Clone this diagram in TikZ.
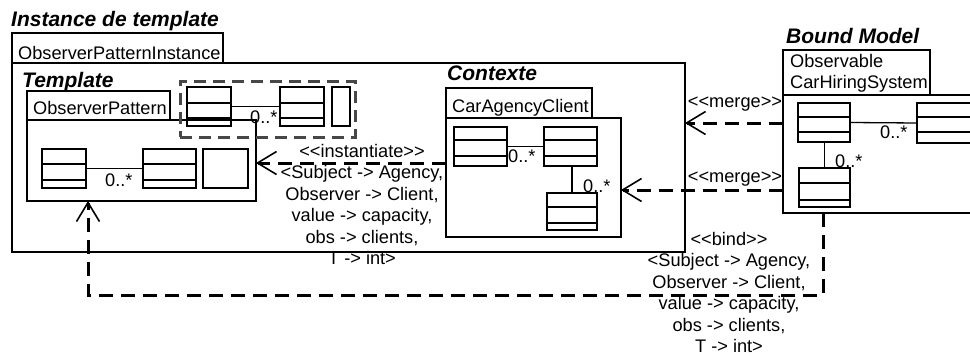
\documentclass[tikz,border=0pt]{standalone}
\usepackage{fontspec}
\setmainfont{Liberation Sans}[Ligatures=TeXOff]
\usetikzlibrary{arrows.meta,calc}
\newcommand\umlcls[7]{%
  \node[box,minimum width=#4pt,minimum height=#5pt] (#1) at (#2,#3) {};
  \draw[cmp] ([yshift=-#6pt]#1.north west) -- ([yshift=-#6pt]#1.north east);
  \draw[cmp] ([yshift=-#7pt]#1.north west) -- ([yshift=-#7pt]#1.north east);}
\begin{document}
\begin{tikzpicture}[x=1pt,y=-1pt,
  box/.style={draw,line width=1.4pt,inner sep=0pt,outer sep=0pt,anchor=north west},
  cmp/.style={line width=1.2pt},
  asc/.style={line width=1.3pt},
  txt/.style={inner sep=0pt,anchor=base west,font=\fontsize{18.2}{21.5}\selectfont},
  ctxt/.style={txt,anchor=base},
  ttl/.style={inner sep=0pt,anchor=base west,font=\fontsize{21}{24}\selectfont\bfseries\itshape},
  map/.style={inner sep=0pt,anchor=north,align=center,font=\fontsize{18.2}{21.5}\selectfont},
  dep/.style={line width=3pt,dash pattern=on 14pt off 8pt,-{Straight Barb[length=19pt,width=23pt,line width=1.6pt]}},
  grp/.style={box,draw=black!72,line width=3pt,dash pattern=on 12pt off 7pt},
]
\useasboundingbox (0,0) rectangle (970,356);
\clip (0,0) rectangle (970,356);

% ---- Instance de template
\node[ttl] (ttlinst) at (11,27) {Instance de template};
\node[box,minimum width=211pt,minimum height=30pt] (optab) at (12,33) {};
\node[txt] (optxt) at (18,59) {ObserverPatternInstance};
\node[box,minimum width=673pt,minimum height=189pt] (outer) at (12,63) {};

% ---- Template
\node[ttl] (ttltpl) at (22,87) {Template};
\node[box,minimum width=143pt,minimum height=29pt] (tpltab) at (27,91) {};
\node[txt] (tpltxt) at (33,114) {ObserverPattern};
\node[box,minimum width=229pt,minimum height=81pt] (tplbox) at (27,120) {};

\node[grp,minimum width=175pt,minimum height=56pt] (grp) at (180,81) {};
\umlcls{d1}{187}{87}{44}{39}{16}{31}
\umlcls{d2}{280}{87}{44}{39}{16}{31}
\node[box,minimum width=18pt,minimum height=39pt] (d3) at (332,87) {};
\draw[asc] (d1.east) -- (d2.west);
\node[txt] (md) at (250,123) {0..*};

\umlcls{t1}{42}{149}{44}{39}{15}{31}
\umlcls{t2}{143}{149}{53}{39}{15}{31}
\node[box,minimum width=45pt,minimum height=39pt] (t3) at (203,149) {};
\draw[asc] (t1.east) -- (t2.west);
\node[txt] (mt) at (105,186) {0..*};

% ---- Contexte
\node[ttl] (ttlctx) at (447,80) {Contexte};
\node[box,minimum width=146pt,minimum height=30pt] (cactab) at (446,88) {};
\node[txt] (cactxt) at (452,112) {CarAgencyClient};
\node[box,minimum width=175pt,minimum height=119pt] (cacbox) at (446,118) {};
\umlcls{c1}{454}{127}{53}{39}{13}{29}
\umlcls{c2}{544}{127}{53}{39}{13}{29}
\umlcls{c3}{547}{193}{50}{37}{14}{30}
\draw[asc] (c1.east) -- (c2.west);
\draw[asc] (c3.north) -- (c3.north |- c2.south);
\node[txt] (mc1) at (508,162) {0..*};
\node[txt] (mc2) at (583,192) {0..*};

% ---- Bound Model
\node[ttl] (ttlbm) at (786,43) {Bound Model};
\node[box,minimum width=147pt,minimum height=45pt] (bmtab) at (783,50) {};
\node[txt] (bmtxt1) at (790,67) {Observable};
\node[txt] (bmtxt2) at (790,88) {CarHiringSystem};
\node[box,minimum width=210pt,minimum height=118pt] (bmbox) at (783,95) {};
\umlcls{b1}{798}{103}{52}{39}{14}{29}
\umlcls{b2}{917}{103}{80}{40}{14}{29}
\umlcls{b3}{799}{168}{51}{39}{15}{32}
\draw[asc] (b1.east) -- (b2.west);
\draw[asc] (b3.north) -- (b3.north |- b1.south);
\node[txt] (mb1) at (880,138) {0..*};
\node[txt] (mb2) at (835,167) {0..*};

% ---- connectors
\path ([yshift=-28pt]bmbox.north west) coordinate (m1);
\path ([yshift=-95pt]bmbox.north west) coordinate (m2);
\path ([yshift=-45pt]cacbox.north west) coordinate (i1);
\path ([xshift=40pt]bmbox.south west) coordinate (b0);
\path ([xshift=61pt]tplbox.south west) coordinate (b1e);
\draw[dep] (m1) -- (m1 -| outer.east);
\draw[dep] (m2) -- (m2 -| cacbox.east);
\draw[dep] (i1) -- (i1 -| tplbox.east);
\draw[dep] (b0) -- ++(0,82) -| (b1e);

\node[ctxt] (lm1) at (735,107) {<<merge>>};
\node[ctxt] (lm2) at (735,182) {<<merge>>};
\node[map] (linst) at (362,144) {<<instantiate>>\\<Subject -> Agency,\\Observer -> Client,\\value -> capacity,\\obs -> clients,\\T -> int>};
\node[map] (lbind) at (729,232) {<<bind>>\\<Subject -> Agency,\\Observer -> Client,\\value -> capacity,\\obs -> clients,\\T -> int>};
\end{tikzpicture}
\end{document}
